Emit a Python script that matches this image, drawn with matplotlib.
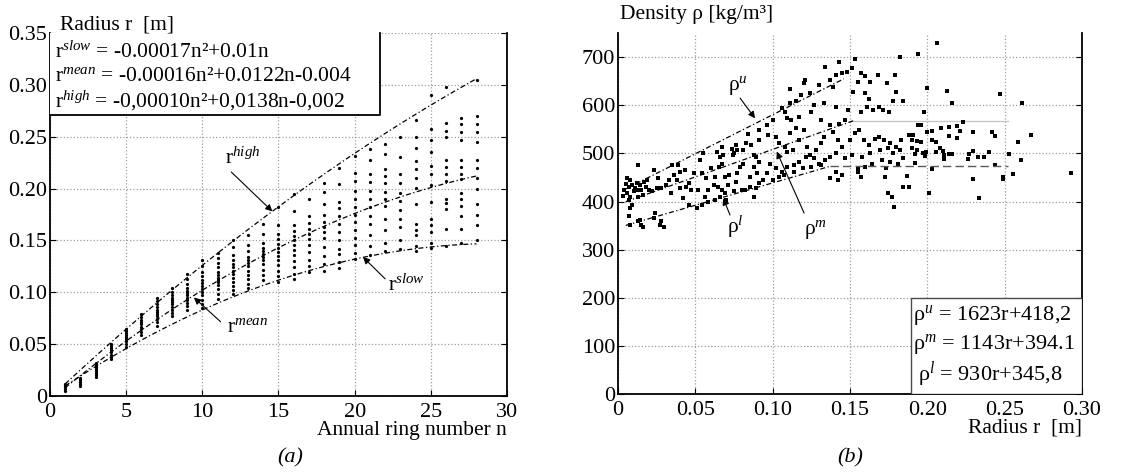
import numpy as np
import matplotlib
matplotlib.use('Agg')
import matplotlib.pyplot as plt
from matplotlib.patches import Rectangle

plt.rcParams['font.family'] = ['Liberation Serif', 'DejaVu Serif']
plt.rcParams['mathtext.fontset'] = 'custom'
plt.rcParams['mathtext.rm'] = 'Liberation Serif'
plt.rcParams['mathtext.it'] = 'Liberation Serif:italic'

# === (a) radius per annual ring ===
ring_n = list(range(1, 29))
ring_radius = [
    [0.005, 0.007, 0.009, 0.010, 0.011, 0.012],
    [0.010, 0.012, 0.014, 0.015, 0.016, 0.017],
    [0.018, 0.020, 0.022, 0.024, 0.026, 0.028, 0.030, 0.032],
    [0.036, 0.038, 0.040, 0.042, 0.044, 0.046, 0.048, 0.050],
    [0.047, 0.050, 0.053, 0.055, 0.057, 0.059, 0.061, 0.063, 0.065],
    [0.059, 0.062, 0.065, 0.067, 0.069, 0.071, 0.073, 0.076, 0.079],
    [0.068, 0.071, 0.074, 0.077, 0.079, 0.081, 0.083, 0.086, 0.089, 0.092, 0.095],
    [0.077, 0.080, 0.083, 0.086, 0.089, 0.091, 0.093, 0.095, 0.097, 0.100, 0.104],
    [0.083, 0.087, 0.090, 0.093, 0.095, 0.097, 0.099, 0.101, 0.104, 0.108, 0.113, 0.118],
    [0.085, 0.089, 0.093, 0.097, 0.100, 0.103, 0.106, 0.109, 0.112, 0.116, 0.120, 0.125, 0.131],
    [0.094, 0.098, 0.103, 0.107, 0.110, 0.112, 0.114, 0.117, 0.120, 0.124, 0.128, 0.133, 0.138],
    [0.098, 0.102, 0.106, 0.110, 0.114, 0.118, 0.121, 0.124, 0.127, 0.131, 0.136, 0.144, 0.150],
    [0.104, 0.108, 0.113, 0.117, 0.121, 0.125, 0.128, 0.131, 0.134, 0.140, 0.146, 0.155],
    [0.112, 0.117, 0.122, 0.127, 0.131, 0.134, 0.137, 0.140, 0.143, 0.148, 0.156, 0.166],
    [0.110, 0.116, 0.121, 0.126, 0.131, 0.135, 0.139, 0.143, 0.147, 0.151, 0.156, 0.165, 0.182],
    [0.113, 0.118, 0.124, 0.130, 0.136, 0.141, 0.146, 0.150, 0.154, 0.159, 0.165, 0.178, 0.195],
    [0.120, 0.125, 0.131, 0.139, 0.146, 0.151, 0.156, 0.161, 0.167, 0.174, 0.190],
    [0.121, 0.127, 0.135, 0.144, 0.152, 0.158, 0.163, 0.168, 0.175, 0.185, 0.197, 0.205],
    [0.123, 0.129, 0.137, 0.142, 0.150, 0.158, 0.166, 0.174, 0.181, 0.187, 0.204, 0.220],
    [0.132, 0.138, 0.146, 0.152, 0.160, 0.168, 0.175, 0.182, 0.190, 0.198, 0.207, 0.215, 0.231],
    [0.136, 0.145, 0.155, 0.166, 0.174, 0.182, 0.190, 0.198, 0.206, 0.214, 0.228, 0.238],
    [0.140, 0.148, 0.160, 0.171, 0.183, 0.190, 0.197, 0.205, 0.212, 0.219, 0.233, 0.243],
    [0.142, 0.150, 0.163, 0.171, 0.179, 0.188, 0.196, 0.205, 0.214, 0.230, 0.250],
    [0.140, 0.145, 0.155, 0.160, 0.166, 0.185, 0.201, 0.210, 0.219, 0.227, 0.239, 0.250, 0.266],
    [0.143, 0.148, 0.158, 0.165, 0.171, 0.187, 0.203, 0.214, 0.222, 0.235, 0.247, 0.257, 0.290],
    [0.145, 0.161, 0.180, 0.186, 0.190, 0.207, 0.214, 0.221, 0.228, 0.250, 0.256, 0.263, 0.298],
    [0.148, 0.161, 0.174, 0.183, 0.190, 0.196, 0.209, 0.214, 0.221, 0.228, 0.247, 0.255, 0.262, 0.268],
    [0.150, 0.165, 0.175, 0.185, 0.200, 0.210, 0.220, 0.228, 0.245, 0.255, 0.262, 0.270, 0.305],
]

# fitted curves (coefficients printed on the chart)
coef_slow = [-0.00017, 0.01, 0.0]
coef_mean = [-0.00016, 0.0122, -0.004]
coef_high = [-0.00010, 0.0138, -0.002]

eq_a = [r'r$^{slow}$ = -0.00017n²+0.01n',
        r'r$^{mean}$ = -0.00016n²+0.0122n-0.004',
        r'r$^{high}$ = -0,00010n²+0,0138n-0,002']

# === (b) density vs radius ===
density_pts = [
    (0.006, 448), (0.008, 445), (0.007, 431), (0.009, 434), (0.012, 438), (0.014, 434),
    (0.006, 417), (0.008, 410), (0.010, 421), (0.012, 424), (0.015, 424), (0.007, 403),
    (0.009, 393), (0.013, 410), (0.016, 414), (0.0076, 386), (0.013, 476), (0.004, 425),
    (0.005, 437), (0.003, 412), (0.011, 429), (0.017, 441), (0.018, 431),
    (0.007, 369), (0.008, 352), (0.013, 359), (0.015, 352), (0.014, 362), (0.016, 348),
    (0.024, 376), (0.023, 366), (0.028, 359), (0.030, 348), (0.027, 352),
    (0.019, 445), (0.023, 466), (0.026, 448), (0.020, 424), (0.022, 421), (0.025, 428),
    (0.028, 428), (0.031, 434), (0.033, 445), (0.036, 455), (0.039, 476), (0.040, 462),
    (0.038, 445), (0.040, 428), (0.044, 431), (0.047, 424), (0.046, 438), (0.034, 417),
    (0.043, 466), (0.035, 476), (0.042, 407),
    (0.049, 459), (0.053, 486), (0.055, 500), (0.054, 459), (0.057, 448), (0.060, 469),
    (0.063, 452), (0.064, 503), (0.066, 493), (0.067, 479), (0.068, 497), (0.069, 452),
    (0.0645, 431), (0.072, 455), (0.0735, 510), (0.075, 500), (0.076, 517), (0.077, 459),
    (0.079, 472), (0.081, 507), (0.083, 521), (0.084, 541), (0.086, 517), (0.088, 472),
    (0.090, 459), (0.089, 493), (0.091, 528), (0.091, 548),
    (0.046, 393), (0.051, 386), (0.054, 393), (0.058, 400), (0.063, 403), (0.066, 410),
    (0.069, 417), (0.075, 421), (0.080, 424), (0.085, 431), (0.089, 428), (0.070, 403),
    (0.058, 424), (0.062, 434), (0.052, 424), (0.056, 410),
    (0.0675, 514), (0.0744, 497), (0.077, 507), (0.0655, 472), (0.081, 479), (0.088, 497),
    (0.091, 483), (0.085, 452), (0.091, 438), (0.076, 441), (0.071, 434), (0.0675, 424),
    (0.082, 424), (0.088, 410),
    (0.182, 701), (0.153, 696), (0.143, 691), (0.134, 680),
    (0.1115, 635), (0.121, 653), (0.120, 646), (0.124, 625), (0.118, 622), (0.130, 642),
    (0.137, 653), (0.139, 639), (0.141, 663), (0.145, 667), (0.148, 670), (0.151, 677),
    (0.157, 667), (0.160, 660), (0.155, 649), (0.163, 649), (0.152, 628), (0.160, 625),
    (0.162, 614), (0.168, 663), (0.174, 646), (0.179, 663), (0.180, 628), (0.184, 608),
    (0.178, 608), (0.1685, 597), (0.171, 590), (0.175, 587), (0.165, 590), (0.161, 597),
    (0.157, 587), (0.149, 590), (0.141, 597), (0.133, 604), (0.127, 601), (0.125, 587),
    (0.115, 608), (0.1115, 604), (0.106, 594), (0.108, 587), (0.1095, 573), (0.112, 569),
    (0.117, 576), (0.131, 569), (0.137, 559), (0.143, 562), (0.147, 569), (0.120, 549),
    (0.115, 552), (0.1115, 542), (0.100, 569), (0.096, 559), (0.097, 538), (0.102, 535),
    (0.104, 521), (0.108, 514), (0.1095, 504), (0.113, 507), (0.117, 528), (0.122, 514),
    (0.124, 497), (0.128, 507), (0.131, 521), (0.133, 535), (0.139, 545), (0.142, 528),
    (0.145, 514), (0.150, 528), (0.153, 542), (0.156, 549), (0.159, 528), (0.162, 518),
    (0.166, 531), (0.1685, 535), (0.172, 528), (0.176, 521), (0.180, 514), (0.183, 528),
    (0.1695, 507), (0.1745, 511), (0.178, 500), (0.182, 507), (0.163, 500), (0.158, 493),
    (0.151, 497), (0.147, 490), (0.141, 500), (0.137, 493), (0.134, 486), (0.130, 479),
    (0.127, 490), (0.1213, 493), (0.117, 483), (0.1135, 476), (0.1095, 472), (0.106, 462),
    (0.102, 469), (0.098, 479), (0.096, 459), (0.094, 445), (0.100, 445), (0.104, 452),
    (0.1075, 455), (0.1135, 462), (0.1193, 469), (0.125, 472), (0.131, 476), (0.141, 462),
    (0.145, 455), (0.142, 445), (0.155, 462), (0.157, 452), (0.160, 472), (0.1645, 479),
    (0.1705, 486), (0.1734, 469), (0.176, 483), (0.181, 479), (0.184, 490), (0.1724, 452),
    (0.184, 431), (0.1744, 417), (0.177, 410), (0.1783, 389), (0.137, 448), (0.155, 469),
    (0.206, 729), (0.194, 707), (0.200, 637), (0.213, 630), (0.216, 604), (0.247, 623),
    (0.2615, 604), (0.198, 587), (0.194, 560), (0.196, 559), (0.223, 565), (0.200, 545),
    (0.203, 547), (0.209, 552), (0.214, 556), (0.219, 557), (0.221, 547), (0.2297, 545),
    (0.242, 545), (0.244, 536), (0.214, 536), (0.219, 533), (0.188, 539), (0.191, 539),
    (0.190, 528), (0.193, 525), (0.196, 523), (0.203, 528), (0.2055, 523), (0.267, 539),
    (0.2583, 523), (0.190, 512), (0.193, 507), (0.208, 512), (0.2055, 502), (0.210, 505),
    (0.2107, 497), (0.214, 499), (0.216, 499), (0.211, 488), (0.192, 499), (0.197, 500),
    (0.1985, 495), (0.199, 504), (0.227, 499), (0.2297, 505), (0.2262, 488), (0.233, 493),
    (0.2367, 493), (0.240, 504), (0.2525, 499), (0.2604, 486), (0.192, 481), (0.2439, 476),
    (0.203, 467), (0.187, 453), (0.188, 431), (0.2295, 447), (0.2488, 452), (0.2486, 447),
    (0.2553, 457), (0.2008, 417), (0.2332, 407), (0.293, 459),
]

# linear fits (printed on the chart): slope, intercept, r range
fit_u = [1623, 418.2, 0.005, 0.146]
fit_m = [1143, 394.1, 0.005, 0.152]
fit_l = [930, 345.8, 0.005, 0.137]

eq_b = [r'ρ$^{u}$ = 1623r+418,2',
        r'ρ$^{m}$ = 1143r+394.1',
        r'ρ$^{l}$ = 930r+345,8']

a_ticks = [0, 0.05, 0.10, 0.15, 0.20, 0.25, 0.30, 0.35]
a_ticklabels = ['0', '0.05', '0.10', '0.15', '0.20', '0.25', '0.30', '0.35']
b_xticks = [0, 0.05, 0.10, 0.15, 0.20, 0.25, 0.30]
b_xticklabels = ['0', '0.05', '0.10', '0.15', '0.20', '0.25', '0.30']

dashdot = (0, (4, 2, 1, 2))
fs = 15.5

fig = plt.figure(figsize=(11.33, 4.76), dpi=100)
ax1 = fig.add_axes([0.0441, 0.168, 0.4034, 0.7626])
ax2 = fig.add_axes([0.5455, 0.1723, 0.4095, 0.758])

for ax in (ax1, ax2):
    ax.spines['top'].set_visible(False)
    for s in ('left', 'right', 'bottom'):
        ax.spines[s].set_linewidth(1.3)
    ax.tick_params(direction='in', right=True, top=False, length=4, labelsize=16, pad=2)
    ax.tick_params(axis='x', pad=5)
    ax.grid(True, color='0.62', linestyle=':', linewidth=0.9)
    ax.set_axisbelow(True)

# --- panel (a) ---
for n, col in zip(ring_n, ring_radius):
    ax1.plot([n] * len(col), col, 'k.', ms=2.6, zorder=2)

nn = np.linspace(ring_n[0], ring_n[-1], 100)
for coef in (coef_slow, coef_mean, coef_high):
    ax1.plot(nn, np.polyval(coef, nn), color='k', lw=0.9, linestyle=dashdot, zorder=2)

ax1.set_xlim(0, 30)
ax1.set_ylim(0, 0.35)
ax1.set_xticks(range(0, 31, 5))
ax1.set_yticks(a_ticks)
ax1.set_yticklabels(a_ticklabels)

ax1.add_patch(Rectangle((0, 0.2708), 21.67, 0.0792, facecolor='white', edgecolor='none', zorder=3))
ax1.plot([0, 21.67, 21.67], [0.2708, 0.2708, 0.35], color='k', lw=1.3, zorder=4, clip_on=False)
for i, txt in enumerate(eq_a):
    ax1.text(0.35, 0.3317 - i * 0.0235, txt, fontsize=15.5, va='center', ha='left', zorder=5)

arrow = dict(arrowstyle='-|>', color='k', lw=0.8, mutation_scale=10, shrinkA=0, shrinkB=0)
ax1.text(11.5, 0.229, r'r$^{high}$', fontsize=fs, va='center', ha='left')
ax1.annotate('', xy=(14.6, 0.178), xytext=(11.9, 0.216), arrowprops=arrow)
ax1.text(11.6, 0.066, r'r$^{mean}$', fontsize=fs, va='center', ha='left')
ax1.annotate('', xy=(9.45, 0.095), xytext=(11.2, 0.0716), arrowprops=arrow)
ax1.text(22.2, 0.1065, r'r$^{slow}$', fontsize=fs, va='center', ha='left')
ax1.annotate('', xy=(20.55, 0.134), xytext=(22.0, 0.113), arrowprops=arrow)

# --- panel (b) ---
pts = np.array(density_pts)
ax2.plot(pts[:, 0], pts[:, 1], 's', color='k', ms=2.4, mew=0, zorder=2)

for slope, icpt, r0, r1 in (fit_u, fit_m, fit_l):
    rr = np.array([r0, r1])
    ax2.plot(rr, slope * rr + icpt, color='k', lw=0.9, linestyle=dashdot, zorder=2)
lo_end = fit_l[0] * fit_l[3] + fit_l[1]
mid_end = fit_m[0] * fit_m[3] + fit_m[1]
ax2.plot([fit_l[3], 0.252], [lo_end, lo_end], color='0.35', lw=1.0, linestyle=(0, (6, 3)), zorder=2)
ax2.plot([fit_m[3], 0.252], [mid_end, mid_end], color='0.78', lw=1.0, zorder=1)

ax2.set_xlim(0, 0.30)
ax2.set_ylim(0, 750)
ax2.set_xticks(b_xticks)
ax2.set_xticklabels(b_xticklabels)
ax2.set_yticks(range(0, 701, 100))

ax2.add_patch(Rectangle((0.1894, 0), 0.1106, 200, facecolor='white', edgecolor='0.3', lw=1.0, zorder=3))
for i, txt in enumerate(eq_b):
    ax2.text(0.191 + (0.003 if i == 2 else 0), 164 - i * 62, txt, fontsize=16, va='center', ha='left', zorder=5)

ax2.text(0.0714, 642, r'ρ$^{u}$', fontsize=fs, va='center', ha='left')
ax2.annotate('', xy=(0.0886, 573), xytext=(0.0789, 615), arrowprops=arrow)
ax2.text(0.1205, 341, r'ρ$^{m}$', fontsize=fs, va='center', ha='left')
ax2.annotate('', xy=(0.1026, 504), xytext=(0.1203, 376), arrowprops=arrow)
ax2.text(0.0705, 348, r'ρ$^{l}$', fontsize=fs, va='center', ha='left')
ax2.annotate('', xy=(0.068, 407), xytext=(0.0724, 372), arrowprops=arrow)

# --- outer labels ---
fig.text(60 / 1133, 1 - 25 / 476, 'Radius r  [m]', fontsize=fs, va='center', ha='left')
fig.text(507 / 1133, 1 - 430 / 476, 'Annual ring number n', fontsize=fs, va='center', ha='right')
fig.text(620 / 1133, 1 - 15 / 476, 'Density ρ [kg/m³]', fontsize=fs, va='center', ha='left')
fig.text(1082 / 1133, 1 - 428 / 476, 'Radius r  [m]', fontsize=fs, va='center', ha='right')
fig.text(290 / 1133, 1 - 458 / 476, '(a)', fontsize=16, style='italic', va='center', ha='center')
fig.text(850 / 1133, 1 - 458 / 476, '(b)', fontsize=16, style='italic', va='center', ha='center')

fig.savefig('out.png', dpi=100)
